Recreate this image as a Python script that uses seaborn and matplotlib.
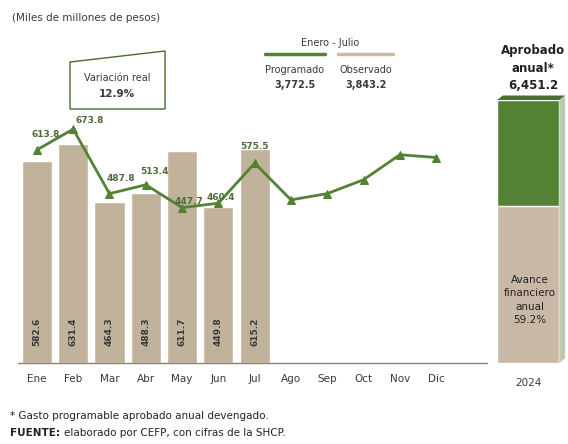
import numpy as np
import pandas as pd
import matplotlib.pyplot as plt
import seaborn as sns
from matplotlib.patches import Polygon

# Data (miles de millones de pesos)
months = ["Ene", "Feb", "Mar", "Abr", "May", "Jun", "Jul", "Ago", "Sep", "Oct", "Nov", "Dic"]
observado = [582.6, 631.4, 464.3, 488.3, 611.7, 449.8, 615.2]
programado = [613.8, 673.8, 487.8, 513.4, 447.7, 460.4, 575.5, 470.0, 488.0, 528.0, 600.0, 592.0]
total_programado = 3772.5
total_observado = 3843.2
aprobado_anual = 6451.2
avance_pct = 59.2
variacion_real = 12.9

green = "#548235"
tan = "#C0B29B"
tan2 = "#C9B8A6"
txt = "#3A3A3A"

sns.set_theme(style="white")
plt.rcParams["font.family"] = ["DejaVu Sans"]

fig = plt.figure(figsize=(5.68, 4.44), dpi=100)
W, H = 568, 444

def px_axes(l, t, r, b):
    return fig.add_axes([l / W, 1 - b / H, (r - l) / W, (b - t) / H])

ax = px_axes(18, 61, 487, 363)

df_obs = pd.DataFrame({"mes": months[:len(observado)], "valor": observado})
sns.barplot(data=df_obs, x="mes", y="valor", order=months, color=tan,
            saturation=1, width=0.83, ax=ax)

df_prog = pd.DataFrame({"pos": np.arange(len(months)), "valor": programado})
sns.lineplot(data=df_prog, x="pos", y="valor", color=green, lw=2,
             marker="^", markersize=6, markeredgecolor=green, ax=ax)

ax.set_xlim(-0.52, 12.4)
ax.set_ylim(0, 870)
ax.set_xticks(range(len(months)))
ax.set_xticklabels(months, fontsize=7.5, color=txt)
ax.tick_params(axis="x", length=0, pad=8)
ax.set_yticks([])
ax.set_xlabel("")
ax.set_ylabel("")
for s in ["top", "right", "left"]:
    ax.spines[s].set_visible(False)
ax.spines["bottom"].set_color("#8C8373")
ax.spines["bottom"].set_linewidth(1)

# bar labels, rotated inside bars
for i, v in enumerate(observado):
    ax.text(i, 90, f"{v:.1f}", rotation=90, ha="center", va="center",
            fontsize=6.5, color=txt, fontweight="bold")

# line labels (Jan-Jul)
offsets = [(6, 8), (12, 3), (8, 8), (6, 6), (5, 1), (2, 1), (0, 9)]
for i, (dx, dy) in enumerate(offsets):
    ax.annotate(f"{programado[i]:.1f}", (i, programado[i]), xytext=(dx, dy),
                textcoords="offset points", ha="center", va="bottom",
                fontsize=6.5, color="#4F6B3A", fontweight="bold")

# right panel: annual approved vs observed
ax2 = px_axes(492, 61, 568, 363)
sns.barplot(x=["2024"], y=[aprobado_anual], color=green, saturation=1,
            width=0.86, ax=ax2)
sns.barplot(x=["2024"], y=[total_observado], color=tan2, saturation=1,
            width=0.86, ax=ax2)
ax2.set_xlim(-0.5, 0.55)
ax2.set_ylim(0, aprobado_anual * 302 / 263)
top = aprobado_anual
ax2.add_patch(Polygon([(-0.43, top), (-0.35, top + 110), (0.51, top + 110), (0.43, top)],
                      closed=True, color="#46702C", lw=0))
ax2.add_patch(Polygon([(0.43, 0), (0.51, 110), (0.51, top + 110), (0.43, top)],
                      closed=True, color="#8FA77E", lw=0, alpha=0.6))
ax2.set_xticks([0])
ax2.set_xticklabels(["2024"], fontsize=7.5, color=txt)
ax2.tick_params(axis="x", length=0, pad=11)
ax2.set_yticks([])
ax2.set_xlabel("")
ax2.set_ylabel("")
for s in ax2.spines.values():
    s.set_visible(False)

# texts
fig.text(12 / W, 1 - 18 / H, "(Miles de millones de pesos)", fontsize=7.5,
         color=txt, va="center")

box = Polygon([(70 / W, 1 - 62 / H), (165 / W, 1 - 51 / H), (165 / W, 1 - 109 / H),
               (70 / W, 1 - 109 / H)], closed=True, fill=False, ec="#4A6B35",
              lw=1, transform=fig.transFigure)
fig.patches.append(box)
fig.text(117 / W, 1 - 78 / H, "Variación real", fontsize=7, color=txt,
         ha="center", va="center")
fig.text(117 / W, 1 - 94 / H, f"{variacion_real}%", fontsize=7.5, color=txt,
         ha="center", va="center", fontweight="bold")

fig.text(330 / W, 1 - 43 / H, "Enero - Julio", fontsize=7, color=txt,
         ha="center", va="center")
fig.add_artist(plt.Line2D([265 / W, 325 / W], [1 - 54 / H, 1 - 54 / H],
                          color=green, lw=2.5, transform=fig.transFigure))
fig.add_artist(plt.Line2D([338 / W, 393 / W], [1 - 54 / H, 1 - 54 / H],
                          color=tan2, lw=2.5, transform=fig.transFigure))
fig.text(295 / W, 1 - 70 / H, "Programado", fontsize=7, color=txt,
         ha="center", va="center")
fig.text(366 / W, 1 - 70 / H, "Observado", fontsize=7, color=txt,
         ha="center", va="center")
fig.text(295 / W, 1 - 85 / H, f"{total_programado:,.1f}", fontsize=7,
         color=txt, ha="center", va="center", fontweight="bold")
fig.text(366 / W, 1 - 85 / H, f"{total_observado:,.1f}", fontsize=7,
         color=txt, ha="center", va="center", fontweight="bold")

fig.text(533 / W, 1 - 68 / H, f"Aprobado\nanual*\n{aprobado_anual:,.1f}",
         fontsize=8.5, color="#222222", ha="center", va="center",
         fontweight="bold", linespacing=1.45)
fig.text(530 / W, 1 - 300 / H, f"Avance\nfinanciero\nanual\n{avance_pct}%",
         fontsize=7.5, color="#222222", ha="center", va="center",
         linespacing=1.4)

fig.text(10 / W, 1 - 416 / H, "* Gasto programable aprobado anual devengado.",
         fontsize=7.5, color="#222222", va="center")
t_f = fig.text(10 / W, 1 - 433 / H, "FUENTE:", fontsize=7.5, color="#222222",
               va="center", fontweight="bold")
fig.canvas.draw()
bb = t_f.get_window_extent()
fig.text((bb.x1 + 4) / W, 1 - 433 / H, "elaborado por CEFP, con cifras de la SHCP.",
         fontsize=7.5, color="#222222", va="center")

fig.savefig("out.png", dpi=100)
